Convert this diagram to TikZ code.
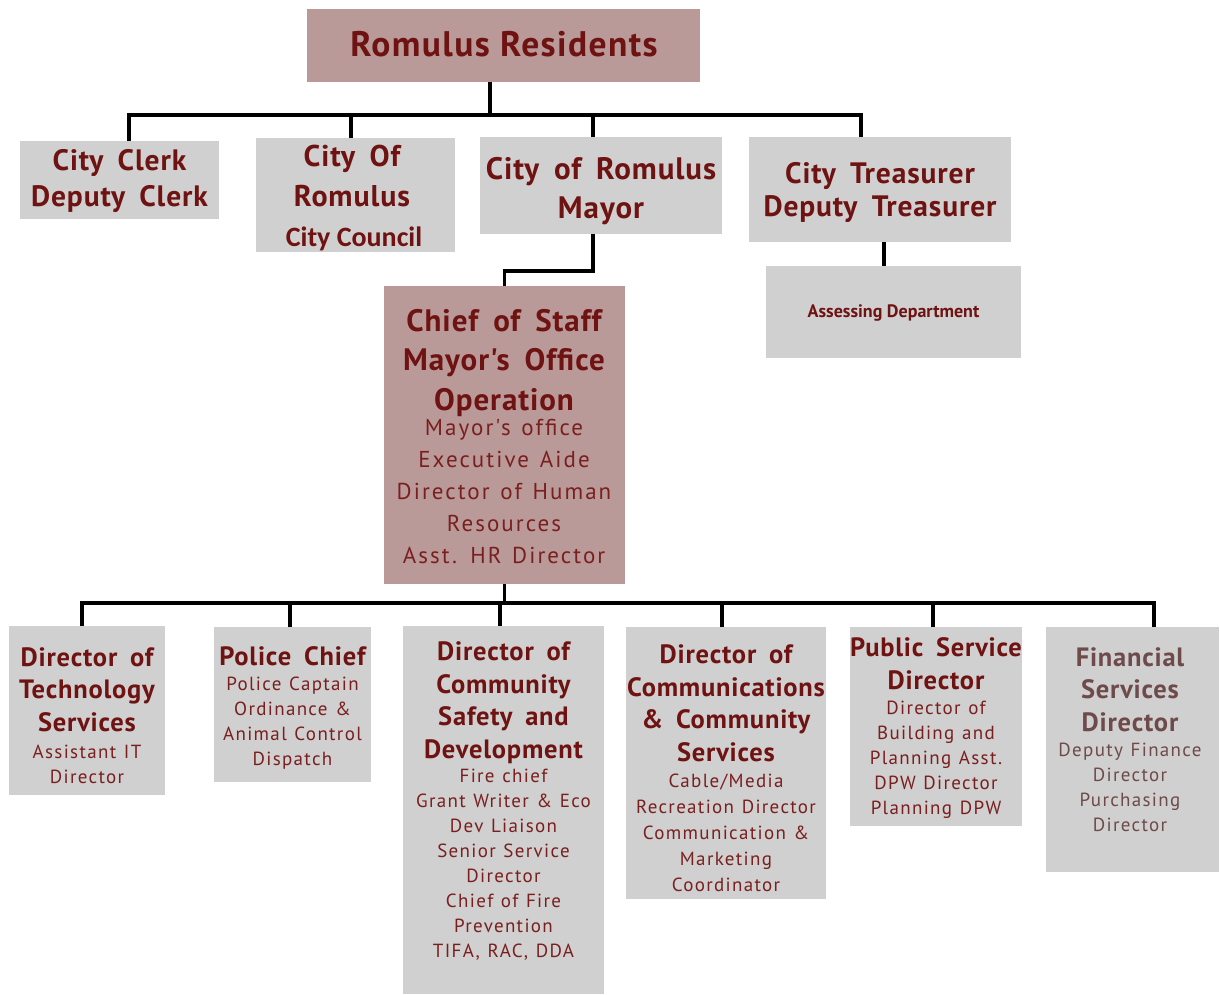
\documentclass[tikz,border=0pt]{standalone}
\usepackage{fontspec}
\setmainfont{PT Sans}
\newfontfamily\titlefont{PT Sans}[LetterSpace=3, WordSpace=1.7]
\newfontfamily\subfont{PT Sans}[LetterSpace=7, WordSpace=1.2]
\newfontfamily\widesub{PT Sans}[LetterSpace=9, WordSpace=1.3]
\newfontfamily\narrowfont{Carlito}
\definecolor{pinkfill}{HTML}{BA9A98}
\definecolor{greyfill}{HTML}{CFD0CF}
\definecolor{darkred}{HTML}{6E1212}
\definecolor{subred}{HTML}{7A1F1F}
\definecolor{finbrown}{HTML}{6E4A4A}
\tikzset{
  orgbox/.style={fill=greyfill, draw=none, inner sep=0pt, outer sep=0pt},
  pinkbox/.style={orgbox, fill=pinkfill},
  conn/.style={draw=black, line width=3.4pt, line join=miter},
  % text nodes are placed by the baseline of their last line
  ttl/.style={text=darkred, align=center, inner sep=0pt, anchor=base},
  bigttl/.style={ttl, font=\fontsize{30}{36}\selectfont\titlefont\bfseries},
  rowttl/.style={ttl, font=\fontsize{26.5}{32.5}\selectfont\titlefont\bfseries},
  rowsub/.style={text=subred, align=center, inner sep=0pt, anchor=base,
    font=\fontsize{19}{25}\selectfont\subfont},
}
\begin{document}
\begin{tikzpicture}[x=1pt,y=-1pt]
\useasboundingbox (0,0) rectangle (1220,994);

% ---- boxes ----
\node[pinkbox, minimum width=393, minimum height=73] (res) at (503.5,45.5) {};
\node[orgbox, minimum width=199, minimum height=78] (clerk) at (119.5,180) {};
\node[orgbox, minimum width=199, minimum height=114] (council) at (355.5,195) {};
\node[orgbox, minimum width=242, minimum height=97] (mayor) at (601,185.5) {};
\node[orgbox, minimum width=262, minimum height=105] (treas) at (880,189.5) {};
\node[orgbox, minimum width=255, minimum height=92] (assess) at (893.5,312) {};
\node[pinkbox, minimum width=241, minimum height=298] (chief) at (504.5,435) {};
\node[orgbox, minimum width=156, minimum height=169] (tech) at (87,710.5) {};
\node[orgbox, minimum width=157, minimum height=155] (police) at (292.5,704.5) {};
\node[orgbox, minimum width=201, minimum height=368] (safety) at (503.5,810) {};
\node[orgbox, minimum width=200, minimum height=272] (comms) at (726,763) {};
\node[orgbox, minimum width=172, minimum height=199] (pubsvc) at (936,726.5) {};
\node[orgbox, minimum width=173, minimum height=245] (fin) at (1132.5,749.5) {};

% ---- texts ----
\node[ttl, font=\fontsize{35.5}{40}\selectfont\bfseries\addfontfeature{LetterSpace=4}] (res-t) at (504,56) {Romulus Residents};
\node[bigttl, font=\fontsize{29.5}{36}\selectfont\titlefont\bfseries] (clerk-t) at (119.5,206) {City Clerk\\Deputy Clerk};
\node[bigttl, font=\fontsize{30}{40}\selectfont\titlefont\bfseries] (council-t) at (352,206) {City Of\\Romulus};
\node[ttl, font=\fontsize{28}{30}\selectfont\narrowfont\bfseries] (council-s) at (354,246) {City Council};
\node[bigttl, font=\fontsize{31}{39}\selectfont\titlefont\bfseries] (mayor-t) at (601,218) {City of Romulus\\Mayor};
\node[bigttl, font=\fontsize{29.5}{33}\selectfont\titlefont\bfseries] (treas-t) at (880,216) {City Treasurer\\Deputy Treasurer};
\node[ttl, font=\fontsize{18}{22}\selectfont\bfseries] (assess-t) at (893.5,317) {Assessing Department};

\node[bigttl, font=\fontsize{31}{39.5}\selectfont\titlefont\bfseries] (chief-t) at (504,410) {Chief of Staff\\Mayor's Office\\Operation};
\node[ttl, text=subred, font=\fontsize{23}{31.8}\selectfont\widesub] (chief-s) at (504,563) {Mayor's office\\Executive Aide\\Director of Human\\Resources\\Asst. HR Director};

\node[rowttl] (tech-t) at (87,731) {Director of\\Technology\\Services};
\node[rowsub] (tech-s) at (87,783) {Assistant IT\\Director};

\node[rowttl] (police-t) at (292.5,665) {Police Chief};
\node[rowsub] (police-s) at (292.5,765) {Police Captain\\Ordinance \&\\Animal Control\\Dispatch};

\node[rowttl] (safety-t) at (503.5,758) {Director of\\Community\\Safety and\\Development};
\node[rowsub, font=\fontsize{19}{24.9}\selectfont\subfont] (safety-s) at (503.5,957) {Fire chief\\Grant Writer \& Eco\\Dev Liaison\\Senior Service\\Director\\Chief of Fire\\Prevention\\TIFA, RAC, DDA};

\node[rowttl] (comms-t) at (726,761) {Director of\\Communications\\\& Community\\Services};
\node[rowsub, font=\fontsize{19}{26}\selectfont\subfont] (comms-s) at (726,891) {Cable/Media\\Recreation Director\\Communication \&\\Marketing\\Coordinator};

\node[rowttl] (pubsvc-t) at (936,689) {Public Service\\Director};
\node[rowsub] (pubsvc-s) at (936,814) {Director of\\Building and\\Planning Asst.\\DPW Director\\Planning DPW};

\node[rowttl, text=finbrown] (fin-t) at (1130,731) {Financial\\Services\\Director};
\node[rowsub, text=finbrown, font=\fontsize{19}{24.7}\selectfont\subfont] (fin-s) at (1130,831) {Deputy Finance\\Director\\Purchasing\\Director};

% ---- connectors ----
\coordinate (topL) at (129,115);
\coordinate (topC) at (351,115);
\coordinate (topM) at (490,115);
\coordinate (topY) at (593,115);
\coordinate (topR) at (861,115);
\draw[conn] (topM |- res.south) -- (topM);
\draw[conn] (topL |- clerk.north) -- (topL) -- (topR) -- (topR |- treas.north);
\draw[conn] (topC) -- (topC |- council.north);
\draw[conn] (topY) -- (topY |- mayor.north);

\coordinate (mj) at (593,271);
\draw[conn] (mj |- mayor.south) -- (mj) -| (chief.north);

\coordinate (ta) at (884,254);
\draw[conn] (ta |- treas.south) -- (ta |- assess.north);

\coordinate (botL) at (82,603);
\coordinate (botP) at (290,603);
\coordinate (botS) at (500,603);
\coordinate (botC) at (722,603);
\coordinate (botU) at (933,603);
\coordinate (botR) at (1154,603);
\draw[conn] (chief.south) -- (chief.south |- botL);
\draw[conn] (botL |- tech.north) -- (botL) -- (botR) -- (botR |- fin.north);
\draw[conn] (botP) -- (botP |- police.north);
\draw[conn] (botS) -- (botS |- safety.north);
\draw[conn] (botC) -- (botC |- comms.north);
\draw[conn] (botU) -- (botU |- pubsvc.north);
\end{tikzpicture}
\end{document}
